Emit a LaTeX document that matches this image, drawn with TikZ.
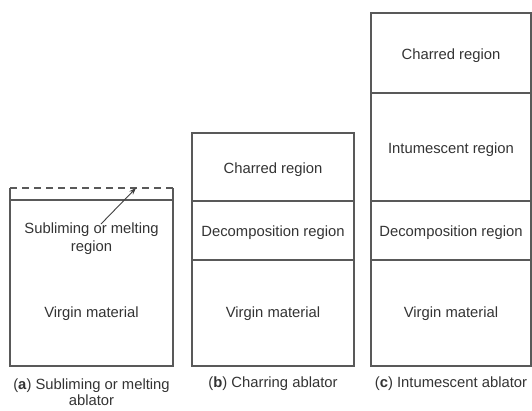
\documentclass[tikz,border=0pt]{standalone}
\usepackage{fontspec}
\setmainfont{Liberation Sans}
\usetikzlibrary{arrows.meta}
\begin{document}
\begin{tikzpicture}[x=1pt,y=-1pt,
  wall/.style={draw=black!65,line width=1.1pt},
  lbl/.style={font=\fontsize{14.8}{17}\selectfont,text=black!80,inner sep=0pt,align=center},
  captext/.style={font=\fontsize{14.8}{17}\selectfont,text=black!80,inner sep=0pt,align=center}]
\useasboundingbox (0,0) rectangle (532,410);
% (a)
\draw[wall] (10,188) -- (10,366) -- (173,366) -- (173,188);
\draw[wall] (10,200) -- (173,200);
\draw[wall,dashed,dash pattern=on 7pt off 5pt] (10,188) -- (173,188);
\node[lbl] (subl) at (91.5,239) {Subliming or melting\\[1pt]region};
\node[lbl] (va) at (91.5,314) {Virgin material};
\coordinate (atail) at (101,224);
\coordinate (ahead) at (136,188);
\draw[draw=black!75,line width=0.9pt,-{Stealth[length=7pt,width=5pt]}] (atail) -- (ahead);
\node[captext] (capa) at (91.5,392) {(\textbf{a}) Subliming or melting\\[-1pt]ablator};
% (b)
\draw[wall] (192,133) rectangle (354,366);
\draw[wall] (192,201) -- (354,201);
\draw[wall] (192,260) -- (354,260);
\node[lbl] (cb) at (273,170) {Charred region};
\node[lbl] (db) at (273,233) {Decomposition region};
\node[lbl] (vb) at (273,314) {Virgin material};
\node[captext] (capb) at (273,384) {(\textbf{b}) Charring ablator};
% (c)
\draw[wall] (371,13) rectangle (531,366);
\draw[wall] (371,93) -- (531,93);
\draw[wall] (371,201) -- (531,201);
\draw[wall] (371,260) -- (531,260);
\node[lbl] (cc) at (451,56) {Charred region};
\node[lbl] (ic) at (451,150) {Intumescent region};
\node[lbl] (dc) at (451,233) {Decomposition region};
\node[lbl] (vc) at (451,314) {Virgin material};
\node[captext] (capc) at (451,384) {(\textbf{c}) Intumescent ablator};
\end{tikzpicture}
\end{document}
